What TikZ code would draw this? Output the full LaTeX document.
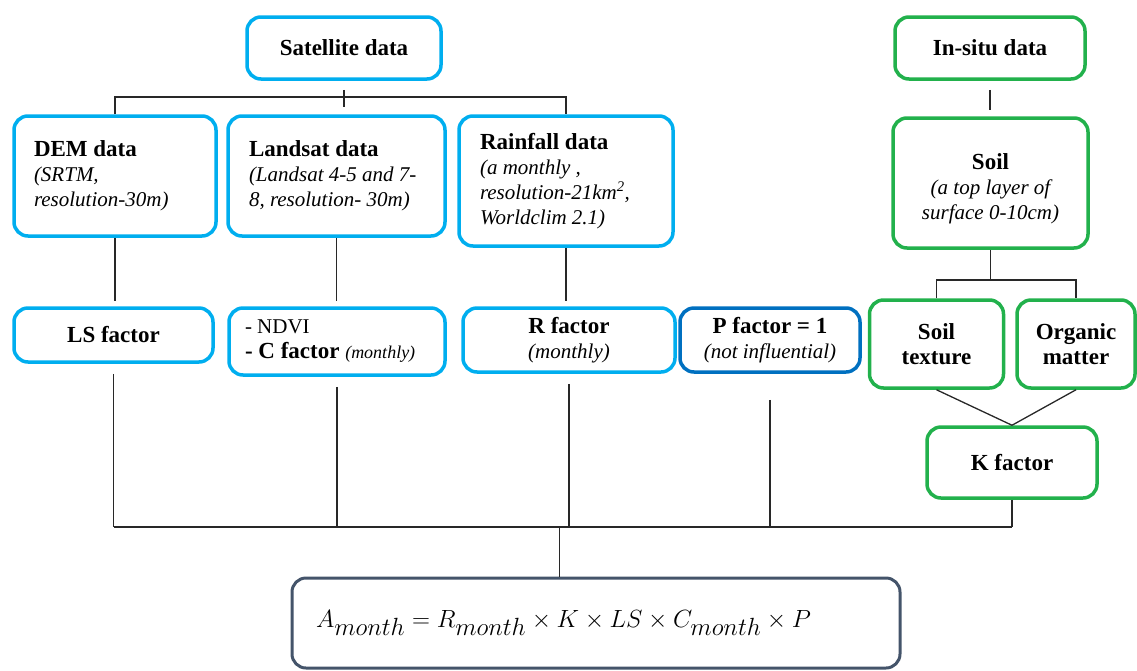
\documentclass[tikz,border=0pt]{standalone}
\usepackage{fontspec}
\setmainfont{Liberation Serif}
\usetikzlibrary{calc}
\definecolor{cyanb}{RGB}{0,174,239}
\definecolor{greenb}{RGB}{34,177,76}
\definecolor{pblue}{RGB}{0,112,192}
\definecolor{eqc}{RGB}{68,84,106}
\definecolor{linec}{RGB}{40,40,40}
\newcommand{\hdf}{\fontsize{23}{25}\selectfont\bfseries}
\newcommand{\itf}{\fontsize{21}{25}\selectfont\mdseries\itshape}
\begin{document}
\begin{tikzpicture}[x=1pt,y=-1pt,
  box/.style={draw, rounded corners=14pt, line width=3.5pt, fill=white, align=flush center, inner sep=4pt, font=\hdf},
  cbox/.style={box, draw=cyanb},
  gbox/.style={box, draw=greenb},
  pbox/.style={box, draw=pblue},
  conn/.style={draw=linec, line width=1.3pt}]
\useasboundingbox (0,0) rectangle (1137,670);
\coordinate (top) at (0,97);
\coordinate (bus) at (0,527);
\coordinate (sbus) at (0,280);
% top row
\node[cbox, minimum width=194pt, minimum height=62pt] (sat) at (344,48) {Satellite data};
\node[gbox, minimum width=190pt, minimum height=62pt] (insitu) at (990,48) {In-situ data};
% data row
\node[cbox, minimum height=120pt, text width=162pt, inner xsep=20pt, align=flush left] (dem) at (115,176)
  {DEM data\\{\itf (SRTM,}\\{\itf resolution-30m)}};
\node[cbox, minimum height=120pt, text width=175pt, inner xsep=21pt, align=flush left] (landsat) at (336.5,176)
  {Landsat data\\{\itf (Landsat 4-5 and 7-}\\{\itf 8, resolution- 30m)}};
\node[cbox, minimum height=130pt, text width=172pt, inner xsep=21pt, align=flush left] (rain) at (566,181)
  {Rainfall data\\{\itf (a monthly ,}\\{\itf resolution-21km\textsuperscript{2},}\\{\itf Worldclim 2.1)}};
\node[gbox, minimum width=195pt, minimum height=130pt] (soil) at (990.5,183)
  {\rule{0pt}{28pt}Soil\\{\itf (a top layer of}\\{\itf surface 0-10cm)}};
% factor row
\node[cbox, minimum width=199pt, minimum height=54pt] (ls) at (113.5,335) {LS factor};
\node[cbox, minimum height=67pt, text width=184pt, inner xsep=16pt, align=flush left] (ndvi) at (337,341.5)
  {{\fontsize{21}{28}\selectfont\mdseries - NDVI}\\- C factor {\fontsize{18}{25}\selectfont\mdseries\itshape (monthly)}};
\node[cbox, minimum width=212pt, minimum height=64pt] (rf) at (569,340) {R factor\\{\itf (monthly)}};
\node[pbox, minimum width=180pt, minimum height=64pt] (pf) at (770,340) {P factor = 1\\{\itf (not influential)}};
\node[gbox, minimum width=134pt, minimum height=88pt] (tex) at (936.5,344) {Soil\\texture};
\node[gbox, minimum width=118pt, minimum height=88pt] (org) at (1076,344) {Organic\\matter};
\node[gbox, minimum width=170pt, minimum height=71pt] (kf) at (1012,462.5) {K factor};
% equation
\node[draw=eqc, line width=3pt, rounded corners=14pt, fill=white, minimum height=90pt, text width=560pt, inner xsep=24pt, align=flush left] (eq) at (596,623)
  {\fontsize{33}{38}\selectfont $A_{month} = R_{month}\times K\times LS\times C_{month}\times P$};
\coordinate (eqin) at ($(eq.north west)!0.44!(eq.north east)$);
% connectors: satellite
\draw[conn] ($(sat.south)+(0,9)$) -- ($(sat.south)+(0,26)$);
\draw[conn] (dem.north) -- (dem.north |- top) -- (rain.north |- top) -- (rain.north);
% in-situ
\draw[conn] ($(insitu.south)+(0,9)$) -- ($(insitu.south)+(0,29)$);
\draw[conn] (soil.south) -- (soil.south |- sbus);
\draw[conn] (tex.north) -- (tex.north |- sbus) -- (org.north |- sbus) -- (org.north);
\draw[conn] (tex.south) -- (kf.north);
\draw[conn] (org.south) -- (kf.north);
% data to factors
\draw[conn, shorten >=5pt] (dem.south) -- (dem.south |- ls.north);
\draw[conn, shorten >=5pt] (landsat.south) -- (landsat.south |- ndvi.north);
\draw[conn, shorten >=5pt] (rain.south) -- (rain.south |- rf.north);
% factors to bus
\draw[conn, shorten <=10pt] (ls.south) -- (ls.south |- bus);
\draw[conn, shorten <=10pt] (ndvi.south) -- (ndvi.south |- bus);
\draw[conn, shorten <=10pt] (rf.south) -- (rf.south |- bus);
\draw[conn, shorten <=26pt] (pf.south) -- (pf.south |- bus);
\draw[conn] (kf.south) -- (kf.south |- bus);
\draw[conn] (ls.south |- bus) -- (kf.south |- bus);
\draw[conn] (eqin |- bus) -- (eqin);
\end{tikzpicture}
\end{document}
